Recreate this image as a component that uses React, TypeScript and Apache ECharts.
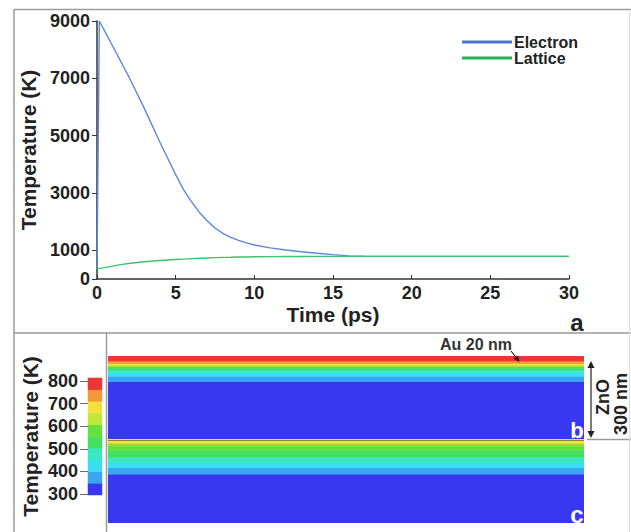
import React, { useEffect, useRef } from "react";
import * as echarts from "echarts";

// ---- Panel a: two-temperature model (time in ps, temperature in K)
const times = [0, 0.15, 0.5, 1, 1.5, 2, 3, 4, 5, 5.5, 6, 6.5, 7, 7.5, 8, 8.5, 9, 9.5, 10, 11, 12, 13, 14, 15, 16, 17, 18, 20, 25, 30];
const electronTemps = [350, 9000, 8640, 8120, 7600, 7080, 5960, 4770, 3640, 3120, 2700, 2330, 2030, 1780, 1590, 1455, 1350, 1260, 1185, 1085, 1010, 950, 898, 850, 808, 792, 790, 790, 790, 790];
const latticeTemps = [350, 370, 395, 450, 500, 540, 600, 645, 680, 695, 710, 722, 735, 745, 755, 760, 766, 770, 775, 780, 785, 787, 789, 790, 790, 790, 790, 790, 790, 790];
const yTickValues = [0, 1000, 3000, 5000, 7000, 9000];
const seriesNames = ["Electron", "Lattice"];

// ---- Panels b and c: temperature vs depth (Au 20 nm on ZnO 300 nm)
const stackDepthNm = 320;
const bandTopB = [0, 20, 30, 35, 40, 45, 55, 65, 80, 100];
const bandTempB = [790, 730, 680, 630, 580, 520, 480, 430, 380, 320];
const bandTopC = [0, 15, 25, 45, 70, 90, 110, 135];
const bandTempC = [680, 630, 580, 520, 480, 430, 380, 320];

// ---- Color scale
const pieceBounds = [300, 350, 400, 450, 500, 550, 600, 650, 700, 750, 800];
const pieceColors = ["#3838f0", "#3aa6f2", "#3ae0f2", "#3ae8c2", "#44e062", "#66e03c", "#c0e83a", "#f4e03c", "#f5963a", "#ec3636"];
const colorbarTemps = [325, 375, 425, 475, 525, 575, 625, 675, 725, 775];
const colorbarTicks = [300, 400, 500, 600, 700, 800];

const FONT = '"Liberation Sans", Arial, Helvetica, sans-serif';

export default function App() {
  const ref = useRef<HTMLDivElement>(null);
  useEffect(() => {
    if (!ref.current) return;
    const chart = echarts.init(ref.current, undefined, { renderer: "svg" });

    const bandsB = bandTopB.map((d, i) => [0, d, bandTempB[i]]);
    const bandsC = bandTopC.map((d, i) => [0, d, bandTempC[i]]);
    const cbCats = colorbarTemps.map(String);
    const cbData = colorbarTemps.map((t, i) => [0, i, t]);

    // each band drawn from its top down to the stack bottom; deeper bands drawn over it
    const renderBand = (params: any, api: any) => {
      const p0 = api.coord([0, api.value(1)]);
      const p1 = api.coord([1, stackDepthNm]);
      return {
        type: "rect",
        shape: { x: p0[0], y: p0[1], width: p1[0] - p0[0], height: p1[1] - p0[1] },
        style: { fill: api.visual("color") },
      };
    };

    const bold = { fontFamily: FONT, fontWeight: "bold" as const, color: "#222" };
    const lineStroke = "#9a9a9a";
    const frame = [
      [14, 9.5, 631, 9.5],
      [14, 9.5, 14, 532],
      [14, 333, 631, 333],
      [106.5, 333, 106.5, 532],
      [587, 439.5, 631, 439.5],
    ].map(([x1, y1, x2, y2]) => ({
      type: "line",
      shape: { x1, y1, x2, y2 },
      style: { stroke: lineStroke, lineWidth: 1.5 },
      z: 100,
    }));
    const plain = (v: number) => String(v);

    const option: any = {
      animation: false,
      backgroundColor: "#ffffff",
      grid: [
        { left: 97, top: 21, width: 472, height: 258 },
        { left: 108, top: 356, width: 476, height: 83 },
        { left: 108, top: 439, width: 476, height: 84 },
        { left: 88, top: 378, width: 14, height: 117 },
      ],
      legend: {
        data: [
          { name: seriesNames[0], itemStyle: { color: "#4a78cf" } },
          { name: seriesNames[1], itemStyle: { color: "#22b24e" } },
        ],
        orient: "vertical",
        left: 462,
        top: 34,
        padding: 0,
        itemGap: 0,
        itemWidth: 50,
        itemHeight: 3,
        icon: "rect",
        textStyle: { ...bold, fontSize: 16, lineHeight: 16, padding: [0, 0, 0, -3] },
      },
      visualMap: {
        type: "piecewise",
        show: false,
        dimension: 2,
        seriesIndex: [2, 3, 4],
        pieces: pieceColors.map((c, i) => ({ gte: pieceBounds[i], lt: pieceBounds[i + 1], color: c })),
      },
      xAxis: [
        {
          gridIndex: 0,
          type: "value",
          min: 0,
          max: 30,
          interval: 5,
          name: "Time (ps)",
          nameLocation: "middle",
          nameGap: 25,
          nameTextStyle: { ...bold, fontSize: 21 },
          axisLine: { lineStyle: { color: "#333", width: 1.5 } },
          axisTick: { inside: true, length: 4, lineStyle: { color: "#333" } },
          axisLabel: { ...bold, fontSize: 18, margin: 5, formatter: plain },
          splitLine: { show: false },
        },
        { gridIndex: 1, type: "value", min: 0, max: 1, show: false },
        { gridIndex: 2, type: "value", min: 0, max: 1, show: false },
        { gridIndex: 3, type: "category", data: [""], show: false },
      ],
      yAxis: [
        {
          gridIndex: 0,
          type: "value",
          min: 0,
          max: 9000,
          name: "Temperature (K)",
          nameLocation: "middle",
          nameGap: 56,
          nameTextStyle: { ...bold, fontSize: 21 },
          axisLine: { show: true, lineStyle: { color: "#333", width: 1.5 } },
          axisTick: { show: true, customValues: yTickValues, length: 5, lineStyle: { color: "#333" } },
          axisLabel: { ...bold, fontSize: 18, margin: 7, customValues: yTickValues, formatter: plain },
          splitLine: { show: false },
        },
        { gridIndex: 1, type: "value", min: 0, max: stackDepthNm, inverse: true, show: false },
        { gridIndex: 2, type: "value", min: 0, max: stackDepthNm, inverse: true, show: false },
        { gridIndex: 3, type: "category", data: cbCats, show: false },
        {
          gridIndex: 3,
          type: "value",
          min: 296,
          max: 813,
          position: "left",
          name: "Temperature (K)",
          nameLocation: "middle",
          nameGap: 47,
          nameTextStyle: { ...bold, fontSize: 21 },
          axisLine: { show: false },
          axisTick: { show: true, customValues: colorbarTicks, length: 8, lineStyle: { color: "#666" } },
          axisLabel: { ...bold, fontSize: 18, margin: 10, customValues: colorbarTicks, formatter: plain },
          splitLine: { show: false },
        },
      ],
      series: [
        {
          name: seriesNames[0],
          type: "line",
          xAxisIndex: 0,
          yAxisIndex: 0,
          data: times.map((t, i) => [t, electronTemps[i]]),
          showSymbol: false,
          lineStyle: { color: "#5b89d9", width: 1.4 },
          itemStyle: { color: "#4a78cf" },
        },
        {
          name: seriesNames[1],
          type: "line",
          xAxisIndex: 0,
          yAxisIndex: 0,
          data: times.map((t, i) => [t, latticeTemps[i]]),
          showSymbol: false,
          lineStyle: { color: "#3cc26c", width: 1.4 },
          itemStyle: { color: "#22b24e" },
        },
        { type: "custom", xAxisIndex: 1, yAxisIndex: 1, data: bandsB, encode: { x: 0, y: 1 }, renderItem: renderBand },
        { type: "custom", xAxisIndex: 2, yAxisIndex: 2, data: bandsC, encode: { x: 0, y: 1 }, renderItem: renderBand },
        { type: "heatmap", xAxisIndex: 3, yAxisIndex: 3, data: cbData },
      ],
      graphic: [
        ...frame,
        { type: "line", shape: { x1: 629.5, y1: 12, x2: 629.5, y2: 532 }, style: { stroke: "#dddddd", lineWidth: 1 }, z: 100 },
        { type: "line", shape: { x1: 108, y1: 440.5, x2: 584, y2: 440.5 }, style: { stroke: "#8a8c2a", lineWidth: 1.2 }, z: 100 },
        { type: "line", shape: { x1: 108, y1: 444.5, x2: 584, y2: 444.5 }, style: { stroke: "#a8aa30", lineWidth: 0.8, opacity: 0.7 }, z: 100 },
        {
          type: "text",
          x: 476,
          y: 344,
          style: { text: "Au 20 nm", fontFamily: FONT, fontWeight: "bold", fontSize: 16, fill: "#333", align: "center", verticalAlign: "middle" },
          z: 100,
        },
        { type: "line", shape: { x1: 511, y1: 351, x2: 517, y2: 358.5 }, style: { stroke: "#222", lineWidth: 1.2 }, z: 100 },
        { type: "polygon", shape: { points: [[519.5, 362], [513.4, 359.1], [518.2, 355.5]] }, style: { fill: "#222" }, z: 100 },
        { type: "line", shape: { x1: 591, y1: 366, x2: 591, y2: 433 }, style: { stroke: "#222", lineWidth: 1.2 }, z: 100 },
        { type: "polygon", shape: { points: [[591, 361], [587.5, 368], [594.5, 368]] }, style: { fill: "#222" }, z: 100 },
        { type: "polygon", shape: { points: [[591, 438], [587.5, 431], [594.5, 431]] }, style: { fill: "#222" }, z: 100 },
        {
          type: "text",
          x: 603,
          y: 397,
          rotation: Math.PI / 2,
          style: { text: "ZnO", fontFamily: FONT, fontWeight: "bold", fontSize: 18, fill: "#222", align: "center", verticalAlign: "middle" },
          z: 100,
        },
        {
          type: "text",
          x: 621,
          y: 404,
          rotation: Math.PI / 2,
          style: { text: "300 nm", fontFamily: FONT, fontWeight: "bold", fontSize: 18, fill: "#222", align: "center", verticalAlign: "middle" },
          z: 100,
        },
        {
          type: "text",
          x: 577,
          y: 322,
          style: { text: "a", fontFamily: FONT, fontWeight: "bold", fontSize: 24, fill: "#222", align: "center", verticalAlign: "middle" },
          z: 100,
        },
        {
          type: "text",
          x: 577,
          y: 430,
          style: { text: "b", fontFamily: FONT, fontWeight: "bold", fontSize: 22, fill: "#ffffff", align: "center", verticalAlign: "middle" },
          z: 100,
        },
        {
          type: "text",
          x: 577,
          y: 514,
          style: { text: "c", fontFamily: FONT, fontWeight: "bold", fontSize: 24, fill: "#ffffff", align: "center", verticalAlign: "middle" },
          z: 100,
        },
      ],
    };
    chart.setOption(option);
    return () => chart.dispose();
  }, []);
  return <div ref={ref} style={{ position: "absolute", left: 0, top: 0, width: 631, height: 532 }} />;
}
